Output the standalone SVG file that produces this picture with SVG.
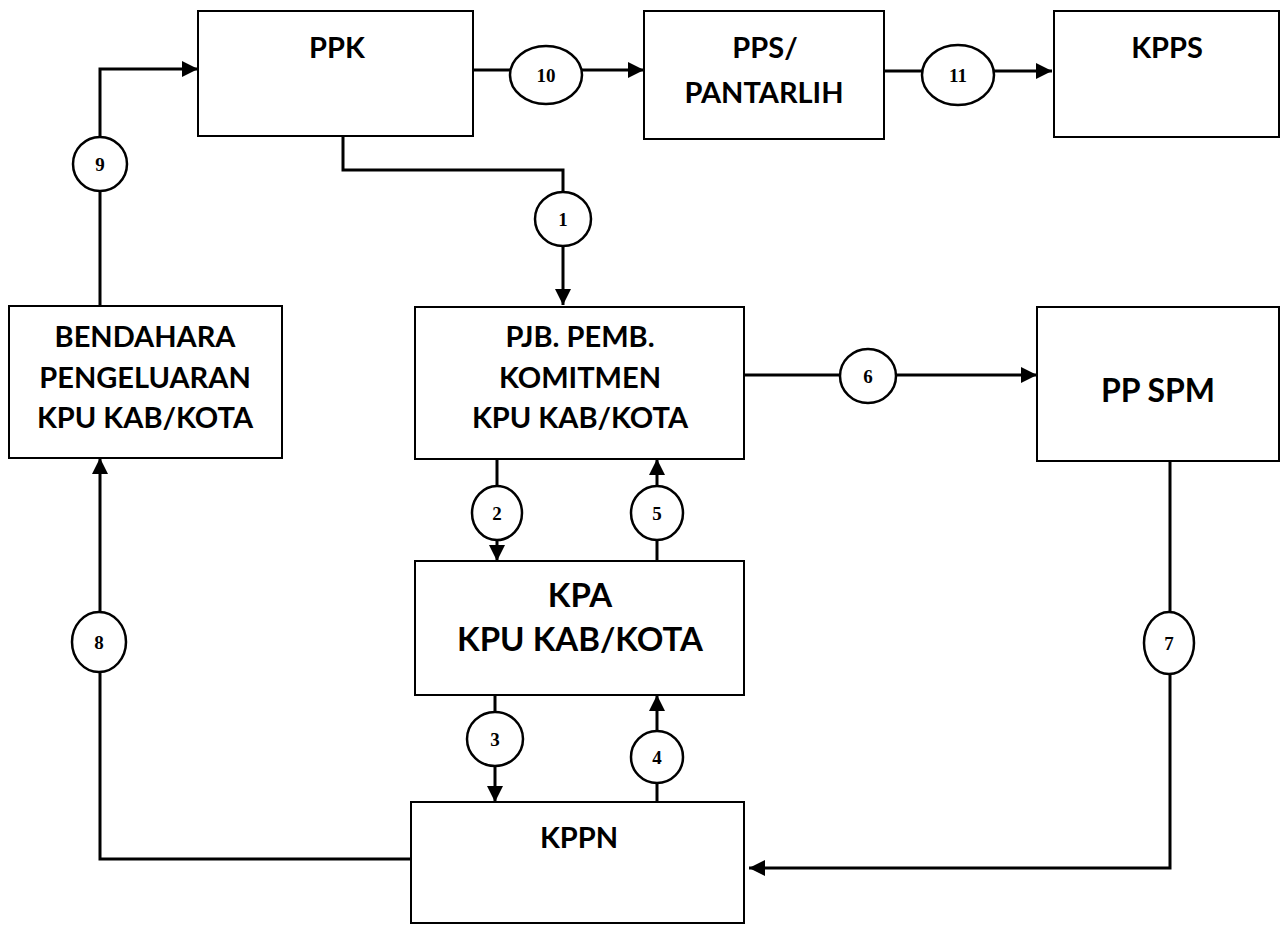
<svg xmlns="http://www.w3.org/2000/svg" width="1280" height="925" viewBox="0 0 1280 925">
<style>
.box{fill:#fff;stroke:#000;stroke-width:2}
.lbl{font-family:Lato,"Liberation Sans",sans-serif;font-weight:bold;font-size:29px;fill:#000;text-anchor:middle}
.big{font-size:33px}
.mid{font-size:32px}
.con{fill:none;stroke:#000;stroke-width:3}
.oval{fill:#fff;stroke:#000;stroke-width:2.5}
.num{font-family:"Liberation Serif",serif;font-weight:bold;font-size:19px;fill:#000;text-anchor:middle}
</style>
<defs>
<marker id="ah" markerUnits="userSpaceOnUse" markerWidth="18" markerHeight="18" refX="16" refY="8" orient="auto">
<path d="M0,0 L16,8 L0,16 z" fill="#000"/>
</marker>
</defs>
<rect width="1280" height="925" fill="#fff"/>
<g id="connectors">
<path class="con" d="M343,136 V170 H563 V305" marker-end="url(#ah)"/>
<path class="con" d="M497,459 V561" marker-end="url(#ah)"/>
<path class="con" d="M495,695 V802" marker-end="url(#ah)"/>
<path class="con" d="M657,802 V695" marker-end="url(#ah)"/>
<path class="con" d="M657,561 V459" marker-end="url(#ah)"/>
<path class="con" d="M744,375 H1037" marker-end="url(#ah)"/>
<path class="con" d="M1170,461 V868 H749" marker-end="url(#ah)"/>
<path class="con" d="M415,859 H100 V458" marker-end="url(#ah)"/>
<path class="con" d="M100,305 V69 H198" marker-end="url(#ah)"/>
<path class="con" d="M473,70 H644" marker-end="url(#ah)"/>
<path class="con" d="M884,71 H1052" marker-end="url(#ah)"/>
<g id="c1"><ellipse class="oval" cx="563" cy="219" rx="28" ry="27"/><text class="num" x="563" y="226">1</text></g>
<g id="c2"><ellipse class="oval" cx="497" cy="513" rx="25" ry="27"/><text class="num" x="497" y="520">2</text></g>
<g id="c3"><ellipse class="oval" cx="495" cy="739" rx="28" ry="27"/><text class="num" x="495" y="746">3</text></g>
<g id="c4"><ellipse class="oval" cx="657" cy="757" rx="26" ry="26"/><text class="num" x="657" y="764">4</text></g>
<g id="c5"><ellipse class="oval" cx="657" cy="513" rx="26" ry="27"/><text class="num" x="657" y="520">5</text></g>
<g id="c6"><ellipse class="oval" cx="868" cy="376" rx="28" ry="27"/><text class="num" x="868" y="383">6</text></g>
<g id="c7"><ellipse class="oval" cx="1169" cy="643" rx="25" ry="31"/><text class="num" x="1169" y="650">7</text></g>
<g id="c8"><ellipse class="oval" cx="99" cy="642" rx="27" ry="30"/><text class="num" x="99" y="649">8</text></g>
<g id="c9"><ellipse class="oval" cx="100" cy="164" rx="27" ry="27"/><text class="num" x="100" y="171">9</text></g>
<g id="c10"><ellipse class="oval" cx="546" cy="75" rx="36" ry="29"/><text class="num" x="546" y="82">10</text></g>
<g id="c11"><ellipse class="oval" cx="958" cy="75" rx="36" ry="30"/><text class="num" x="958" y="82">11</text></g>
</g>
<g id="ppk"><rect class="box" x="198" y="11" width="275" height="125"/><text class="lbl" x="337" y="58">PPK</text></g>
<g id="pps"><rect class="box" x="644" y="11" width="240" height="128"/><text class="lbl" x="765" y="58">PPS/</text><text class="lbl" x="764" y="103">PANTARLIH</text></g>
<g id="kpps"><rect class="box" x="1054" y="11" width="225" height="126"/><text class="lbl" x="1167" y="58">KPPS</text></g>
<g id="bendahara"><rect class="box" x="9" y="306" width="273" height="152"/><text class="lbl" x="145" y="347">BENDAHARA</text><text class="lbl" x="145" y="388">PENGELUARAN</text><text class="lbl" x="145" y="428">KPU KAB/KOTA</text></g>
<g id="pjb"><rect class="box" x="415" y="307" width="329" height="152"/><text class="lbl" x="580" y="347">PJB. PEMB.</text><text class="lbl" x="580" y="388">KOMITMEN</text><text class="lbl" x="580" y="428">KPU KAB/KOTA</text></g>
<g id="ppspm"><rect class="box" x="1037" y="307" width="242" height="154"/><text class="lbl mid" x="1158" y="402">PP SPM</text></g>
<g id="kpa"><rect class="box" x="415" y="561" width="329" height="134"/><text class="lbl big" x="580" y="607">KPA</text><text class="lbl big" x="580" y="651">KPU KAB/KOTA</text></g>
<g id="kppn"><rect class="box" x="411" y="802" width="333" height="121"/><text class="lbl" x="579" y="848">KPPN</text></g>
</svg>
